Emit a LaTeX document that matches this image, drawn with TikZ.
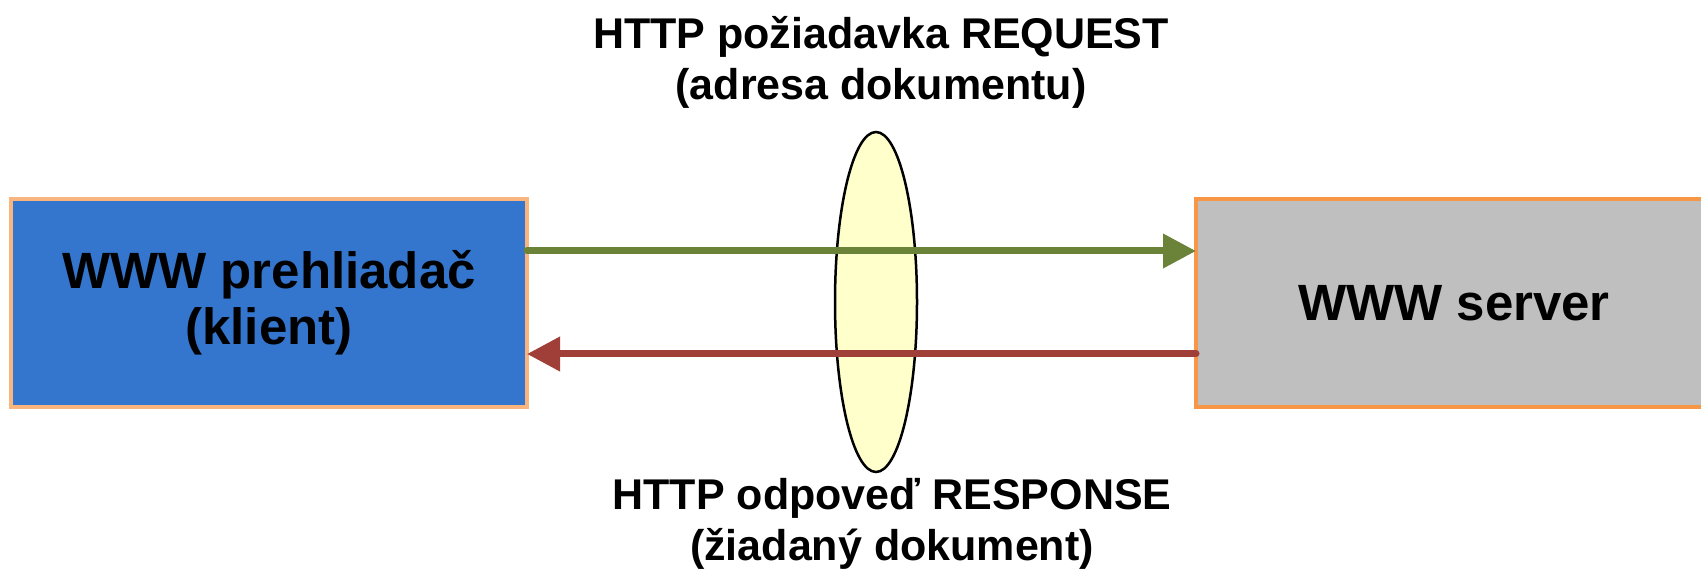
\documentclass[tikz,border=0pt]{standalone}
\usepackage{fontspec}
\setmainfont{Liberation Sans}
\usetikzlibrary{arrows.meta,shapes.geometric}

\definecolor{clientblue}{RGB}{52,117,205}
\definecolor{clientedge}{RGB}{250,180,125}
\definecolor{servergray}{RGB}{191,191,191}
\definecolor{serveredge}{RGB}{247,150,70}
\definecolor{reqgreen}{RGB}{107,131,57}
\definecolor{resred}{RGB}{160,62,56}
\definecolor{lensfill}{RGB}{255,255,204}

\begin{document}
\begin{tikzpicture}[x=1pt,y=-1pt,
  box/.style={rectangle, minimum width=516pt, minimum height=208pt,
    inner sep=0pt, outer sep=0pt, line width=3.5pt, align=center,
    font=\fontsize{51}{56}\selectfont\bfseries},
  msg/.style={inner sep=0pt, align=center,
    font=\fontsize{43}{51}\selectfont\bfseries},
  reqarrow/.style={draw=reqgreen, line width=7pt, line cap=round,
    -{Triangle[length=33pt,width=33pt]}},
  resarrow/.style={draw=resred, line width=7pt, line cap=round,
    -{Triangle[length=33pt,width=33pt]}}]
\clip (0,0) rectangle (1701,569);

% the two endpoints of the exchange
\node[box, fill=clientblue, draw=clientedge] (client) at (269,303)
  {WWW prehliadač\\(klient)};
\node[box, fill=servergray, draw=serveredge] (server) at (1454,303)
  {WWW server};

% the HTTP channel
\node[ellipse, draw=black, fill=lensfill, line width=2.5pt,
  minimum width=82pt, minimum height=340pt, inner sep=0pt] (channel) at (876,302) {};

% request and response lines
\coordinate (reqlevel) at (0,251);
\coordinate (reslevel) at (0,354);
\draw[reqarrow] (client.east |- reqlevel) -- (server.west |- reqlevel);
\draw[resarrow] (server.west |- reslevel) -- (client.east |- reslevel);

% captions (anchored at the baseline of their last line)
\node[msg, anchor=base] (reqtext) at (881,100)
  {HTTP požiadavka REQUEST\\(adresa dokumentu)};
\node[msg, anchor=base] (restext) at (892,560)
  {HTTP odpoveď RESPONSE\\(žiadaný dokument)};
\end{tikzpicture}
\end{document}
